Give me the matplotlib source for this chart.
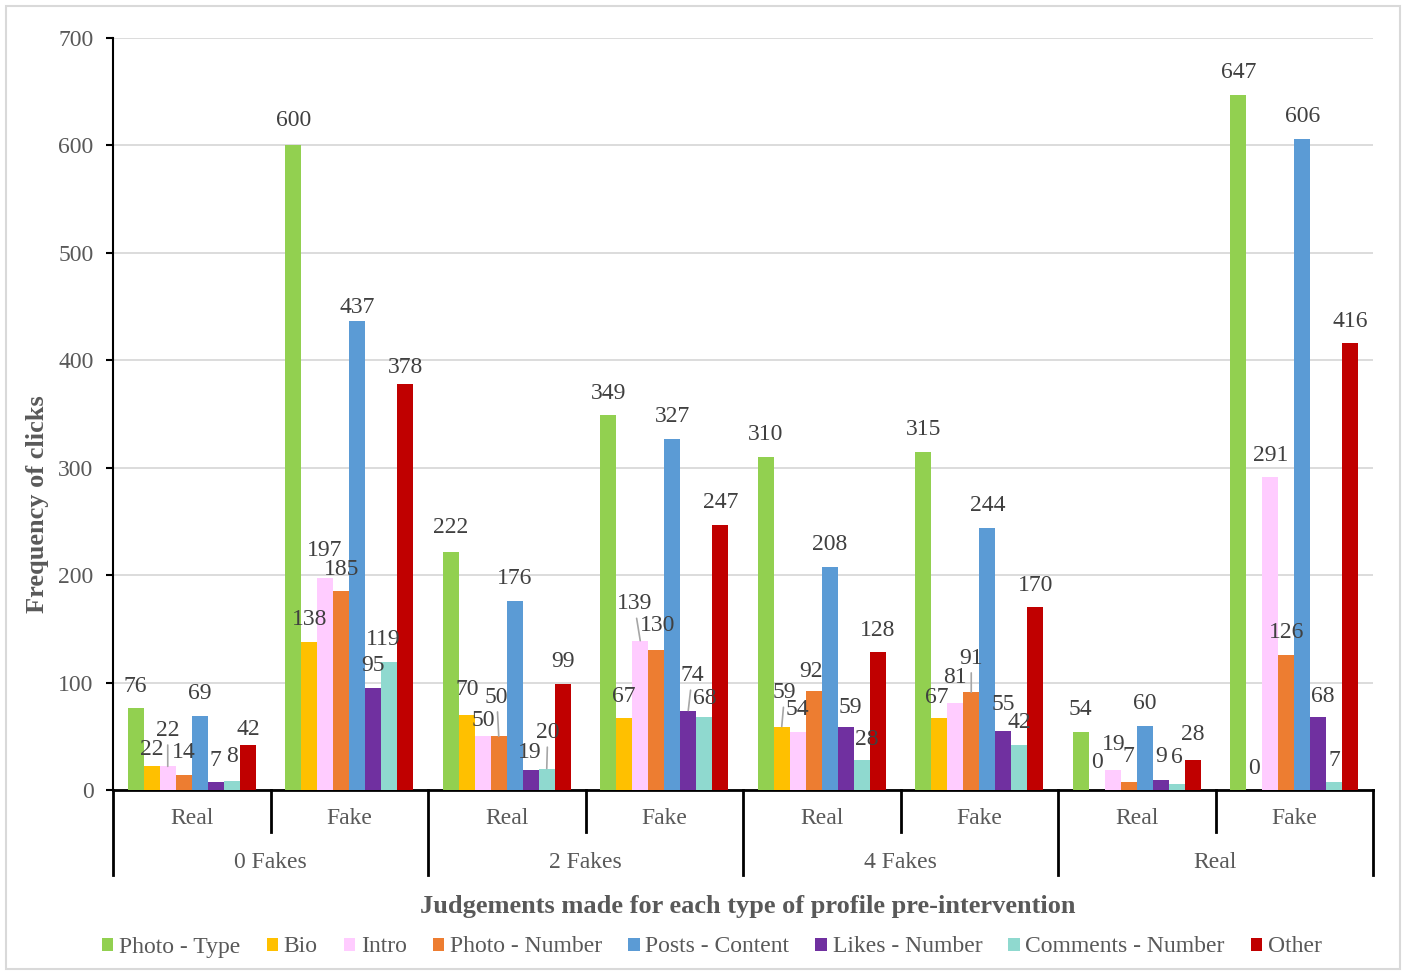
import matplotlib.pyplot as plt
import numpy as np
from matplotlib.patches import Patch, Rectangle

plt.rcParams['font.family'] = ['Liberation Serif', 'DejaVu Serif']

groups = ['0 Fakes', '2 Fakes', '4 Fakes', 'Real']
judgements = ['Real', 'Fake']
series = ['Photo - Type', 'Bio', 'Intro', 'Photo - Number', 'Posts - Content',
          'Likes - Number', 'Comments - Number', 'Other']
colors = ['#92D050', '#FFC000', '#FFCCFF', '#ED7D31', '#5B9BD5',
          '#7030A0', '#8FD9CF', '#C00000']

# one value per (group, judgement) pair, in order: 0F Real, 0F Fake, 2F Real, ...
photo_type = [76, 600, 222, 349, 310, 315, 54, 647]
bio = [22, 138, 70, 67, 59, 67, 0, 0]
intro = [22, 197, 50, 139, 54, 81, 19, 291]
photo_number = [14, 185, 50, 130, 92, 91, 7, 126]
posts_content = [69, 437, 176, 327, 208, 244, 60, 606]
likes_number = [7, 95, 19, 74, 59, 55, 9, 68]
comments_number = [8, 119, 20, 68, 28, 42, 6, 7]
other = [42, 378, 99, 247, 128, 170, 28, 416]

values = [photo_type, bio, intro, photo_number, posts_content,
          likes_number, comments_number, other]

# label nudges (pixels) where labels would collide: (dx, dy, leader line)
default_dy = 22
label_pos = {
    (0, 1): (0, 17, False), (0, 2): (0, 36, True), (0, 6): (0, 25, False),
    (0, 7): (1, 15, False),
    (1, 0): (0, 25, False), (1, 2): (-1, 28, False), (1, 4): (0, 13, False),
    (1, 6): (-6, 23, False), (1, 7): (0, 16, False),
    (2, 0): (0, 24, False), (2, 1): (1, 25, False), (2, 2): (1, 16, False),
    (2, 3): (-2, 39, True), (2, 5): (-1, 17, False), (2, 6): (1, 36, True),
    (3, 2): (-6, 37, True), (3, 3): (1, 25, False), (3, 5): (4, 35, True),
    (3, 6): (0, 18, False),
    (4, 1): (3, 34, True), (4, 3): (-3, 20, False), (4, 5): (5, 19, False),
    (4, 6): (5, 20, False),
    (5, 1): (-2, 21, False), (5, 2): (0, 25, False), (5, 3): (0, 34, True),
    (5, 5): (0, 26, False),
    (6, 1): (0, 27, False), (6, 2): (1, 25, False), (6, 3): (0, 26, False),
    (6, 5): (0, 24, False), (6, 6): (0, 26, False), (6, 7): (0, 25, False),
    (7, 5): (4, 20, False),
}

fig = plt.figure(figsize=(14.06, 9.75), dpi=100)
ax = fig.add_axes([113 / 1406, 1 - 790 / 975, 1260 / 1406, 752 / 975])

x = np.arange(8)
w = 0.1016
text_grey = '#595959'
for s, (vals, c) in enumerate(zip(values, colors)):
    xs = x + (s - 3.5) * w
    ax.bar(xs, vals, width=w, color=c, edgecolor='none', zorder=3)
    for i, (xi, v) in enumerate(zip(xs, vals)):
        dx, dy, leader = label_pos.get((i, s), (0, default_dy, False))
        arrow = None
        if leader:
            arrow = dict(arrowstyle='-', color='#A6A6A6', lw=1.2,
                         shrinkA=1, shrinkB=0)
        ax.annotate(str(v), xy=(xi, v), xytext=(dx, dy),
                    textcoords='offset pixels', ha='center', va='center',
                    fontsize=17, color='#404040', arrowprops=arrow,
                    zorder=4)

ax.set_xlim(-0.5, 7.5)
ax.set_ylim(0, 700)
ax.set_yticks(range(0, 701, 100))
ax.set_xticks([])
ax.tick_params(axis='y', direction='out', length=5, width=1.5, pad=9,
               labelsize=17, labelcolor=text_grey)
ax.yaxis.grid(True, color='#D9D9D9', lw=1.3, zorder=0)
ax.set_axisbelow(True)
for side in ['top', 'right']:
    ax.spines[side].set_visible(False)
ax.spines['left'].set_linewidth(1.5)
ax.spines['bottom'].set_linewidth(2)


def ax_y(px):
    return (790 - px) / 752


# two-level category axis
trans = ax.get_xaxis_transform()
for b in [-0.5, 1.5, 3.5, 5.5, 7.5]:
    ax.plot([b, b], [0, ax_y(875)], color='black', lw=2, transform=trans,
            clip_on=False)
for b in [0.5, 2.5, 4.5, 6.5]:
    ax.plot([b, b], [0, ax_y(832)], color='black', lw=2, transform=trans,
            clip_on=False)
for i in range(8):
    ax.text(i, ax_y(819), judgements[i % 2], transform=trans, ha='center',
            va='center', fontsize=17, color=text_grey)
for g, name in enumerate(groups):
    ax.text(2 * g + 0.5, ax_y(862), name, transform=trans, ha='center',
            va='center', fontsize=17, color=text_grey)

fig.text(748 / 1406, 1 - 907 / 975,
         'Judgements made for each type of profile pre-intervention',
         ha='center', va='center', fontsize=19, fontweight='bold',
         color=text_grey)
fig.text(38 / 1406, 1 - 504 / 975, 'Frequency of clicks', rotation=90,
         ha='center', va='center', fontsize=19, fontweight='bold',
         color=text_grey)

handles = [Patch(facecolor=c, edgecolor='none') for c in colors]
leg = fig.legend(handles, series, loc='center', ncol=8,
                 bbox_to_anchor=(712 / 1406, 1 - 947 / 975), frameon=False,
                 fontsize=17, handlelength=0.48, handleheight=0.48,
                 handletextpad=0.25, columnspacing=1.1)
for t in leg.get_texts():
    t.set_color(text_grey)

fig.patches.append(Rectangle((6 / 1406, 6 / 975), 1394 / 1406, 963 / 975,
                             transform=fig.transFigure, fill=False,
                             edgecolor='#D9D9D9', lw=1.5))

fig.savefig('out.png', dpi=100)
